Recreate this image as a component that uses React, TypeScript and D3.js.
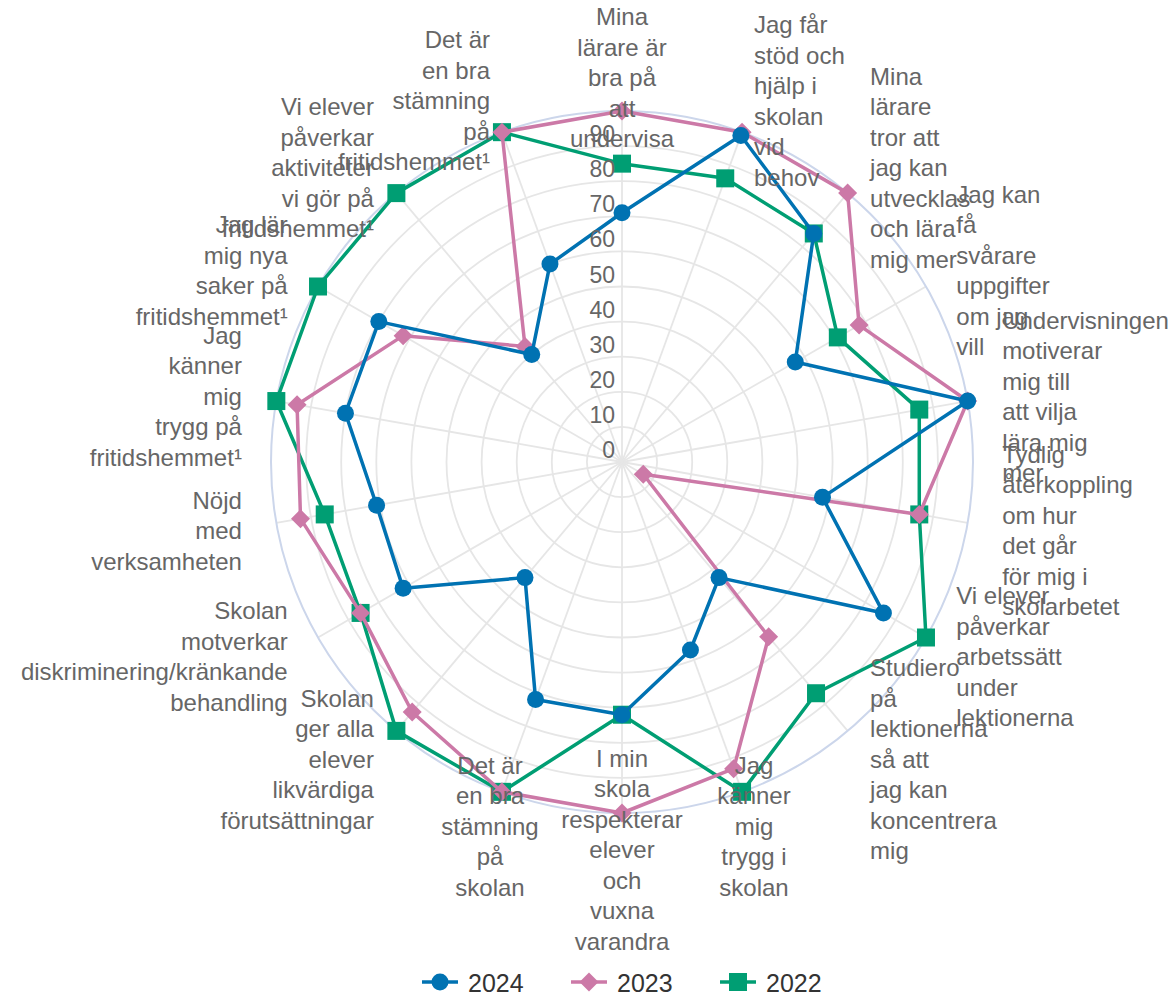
import * as d3 from "d3";

// category labels, already broken into the lines shown in the chart
const categories: string[][] = [
  ["Mina", "lärare är", "bra på", "att", "undervisa"],
  ["Jag får", "stöd och", "hjälp i", "skolan", "vid", "behov"],
  ["Mina", "lärare", "tror att", "jag kan", "utvecklas", "och lära", "mig mer"],
  ["Jag kan", "få", "svårare", "uppgifter", "om jag", "vill"],
  ["Undervisningen", "motiverar", "mig till", "att vilja", "lära mig", "mer"],
  ["Tydlig", "återkoppling", "om hur", "det går", "för mig i", "skolarbetet"],
  ["Vi elever", "påverkar", "arbetssätt", "under", "lektionerna"],
  ["Studiero", "på", "lektionerna", "så att", "jag kan", "koncentrera", "mig"],
  ["Jag", "känner", "mig", "trygg i", "skolan"],
  ["I min", "skola", "respekterar", "elever", "och", "vuxna", "varandra"],
  ["Det är", "en bra", "stämning", "på", "skolan"],
  ["Skolan", "ger alla", "elever", "likvärdiga", "förutsättningar"],
  ["Skolan", "motverkar", "diskriminering/kränkande", "behandling"],
  ["Nöjd", "med", "verksamheten"],
  ["Jag", "känner", "mig", "trygg på", "fritidshemmet¹"],
  ["Jag lär", "mig nya", "saker på", "fritidshemmet¹"],
  ["Vi elever", "påverkar", "aktiviteter", "vi gör på", "fritidshemmet¹"],
  ["Det är", "en bra", "stämning", "på", "fritidshemmet¹"],
];

const values2024 = [71, 99, 85, 57, 100, 58, 86, 43, 57, 72, 72, 43, 72, 71, 80, 80, 40, 60];
const values2023 = [100, 100, 100, 78, 100, 86, 7, 65, 93, 100, 100, 93, 86, 93, 94, 72, 43, 100];
const values2022 = [85, 86, 85, 71, 86, 86, 100, 86, 100, 72, 100, 100, 86, 86, 100, 100, 100, 100];

const radialTicks = [0, 10, 20, 30, 40, 50, 60, 70, 80, 90];
const gridLevels = [10, 20, 30, 40, 50, 60, 70, 80, 90];

type Series = { name: string; color: string; marker: "circle" | "diamond" | "square"; values: number[] };

const series: Series[] = [
  { name: "2024", color: "#0072b2", marker: "circle", values: values2024 },
  { name: "2023", color: "#cc79a7", marker: "diamond", values: values2023 },
  { name: "2022", color: "#009e73", marker: "square", values: values2022 },
];

const W = 1172;
const H = 998;
const cx = 622;
const cy = 462;
const R = 351;
const labelDist = 35;
const lineH = 30.5;

const r = d3.scaleLinear().domain([0, 100]).range([0, R]);
const angle = (i: number) => (i * 2 * Math.PI) / categories.length;

function Marker({ kind, x, y, color }: { kind: Series["marker"]; x: number; y: number; color: string }) {
  if (kind === "circle") return <circle cx={x} cy={y} r={8.5} fill={color} />;
  if (kind === "square") return <rect x={x - 9} y={y - 9} width={18} height={18} fill={color} />;
  const s = 9.5;
  return <path d={`M${x},${y - s}L${x + s},${y}L${x},${y + s}L${x - s},${y}Z`} fill={color} />;
}

export default function App() {
  const line = d3
    .lineRadial<number>()
    .angle((_d, i) => angle(i))
    .radius((d) => r(d))
    .curve(d3.curveLinearClosed);

  const font = "'Liberation Sans', Arial, Helvetica, sans-serif";

  return (
    <svg
      width={W}
      height={H}
      style={{ position: "absolute", left: 0, top: 0, background: "#fff" }}
      fontFamily={font}
    >
      <g transform={`translate(${cx},${cy})`}>
        {/* grid */}
        {gridLevels.map((v) => (
          <circle key={v} r={r(v)} fill="none" stroke="#e6e6e6" strokeWidth={1.8} />
        ))}
        {categories.map((_c, i) => {
          const a = angle(i);
          return (
            <line
              key={i}
              x1={0}
              y1={0}
              x2={r(100) * Math.sin(a)}
              y2={-r(100) * Math.cos(a)}
              stroke="#e6e6e6"
              strokeWidth={1.8}
            />
          );
        })}
        <circle r={r(100)} fill="none" stroke="#ccd6eb" strokeWidth={2} />

        {/* series, last one at the bottom */}
        {[...series].reverse().map((s) => (
          <g key={s.name}>
            <path d={line(s.values) ?? ""} fill="none" stroke={s.color} strokeWidth={3.5} strokeLinejoin="round" />
            {s.values.map((v, i) => {
              const a = angle(i);
              return <Marker key={i} kind={s.marker} x={r(v) * Math.sin(a)} y={-r(v) * Math.cos(a)} color={s.color} />;
            })}
          </g>
        ))}

        {/* radial tick labels */}
        {radialTicks.map((t) => (
          <text key={t} x={-7} y={-r(t) - 4} textAnchor="end" fontSize={23} fill="#666666">
            {t}
          </text>
        ))}

        {/* category labels */}
        {categories.map((lines, i) => {
          const a = angle(i);
          const deg = (i * 360) / categories.length;
          const ax = (R + labelDist) * Math.sin(a);
          const ay = -(R + labelDist) * Math.cos(a);
          let anchor: "start" | "middle" | "end" = "middle";
          if (deg > 1 && deg < 150) anchor = "start";
          else if (deg > 210 && deg < 359) anchor = "end";
          const n = lines.length;
          return (
            <text key={i} textAnchor={anchor} fontSize={24} fill="#666666">
              {lines.map((ln, j) => (
                <tspan key={j} x={ax} y={ay + 10 + (j - (n - 1) / 2) * lineH}>
                  {ln}
                </tspan>
              ))}
            </text>
          );
        })}
      </g>

      {/* legend */}
      <g transform="translate(0,982)">
        {series.map((s, i) => {
          const x0 = 422 + i * 149;
          return (
            <g key={s.name}>
              <line x1={x0} x2={x0 + 36} y1={0} y2={0} stroke={s.color} strokeWidth={3.5} />
              <Marker kind={s.marker} x={x0 + 18} y={0} color={s.color} />
              <text x={x0 + 46} y={10} fontSize={25} fill="#333333">
                {s.name}
              </text>
            </g>
          );
        })}
      </g>
    </svg>
  );
}
